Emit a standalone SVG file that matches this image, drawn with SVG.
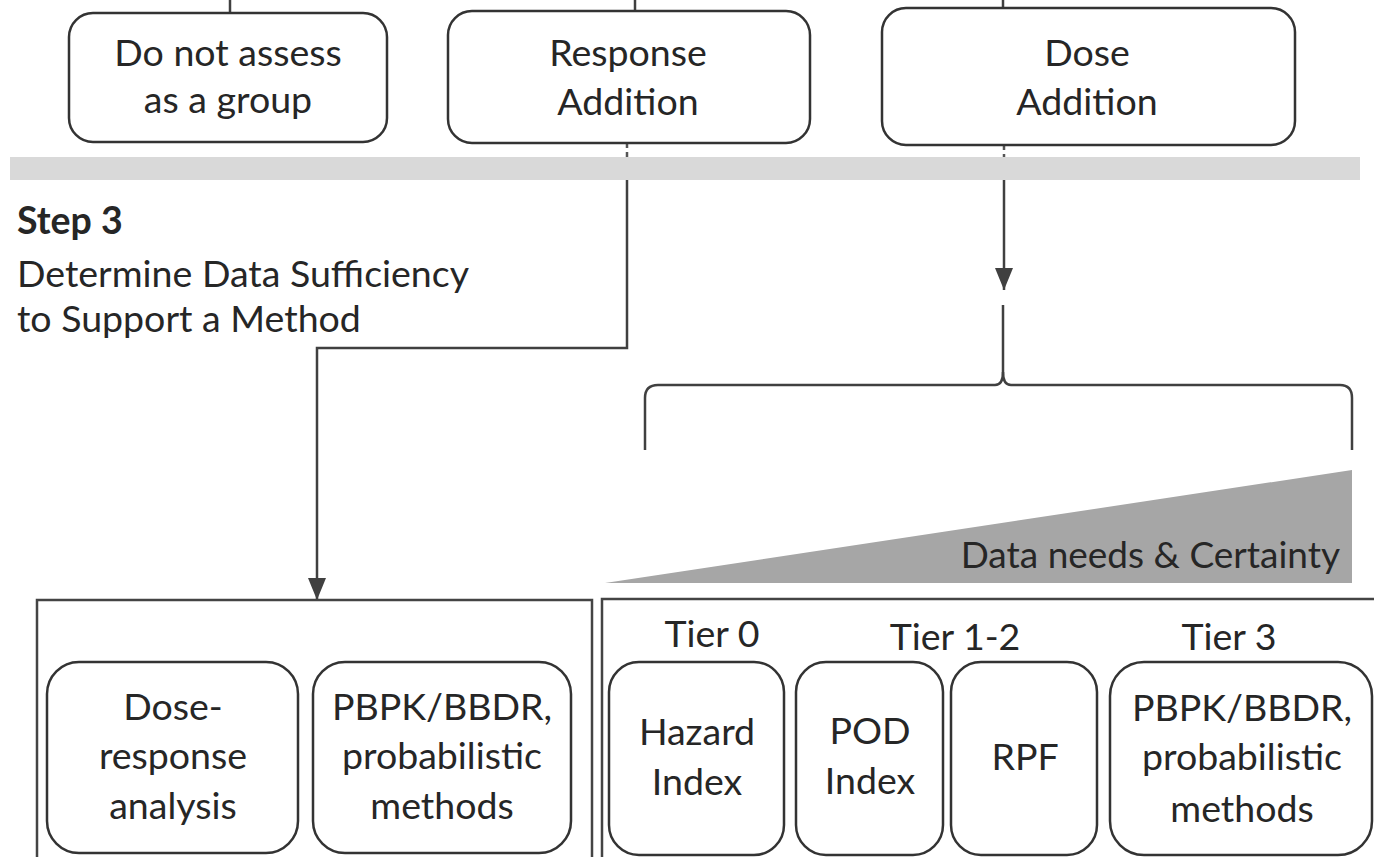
<svg xmlns="http://www.w3.org/2000/svg" width="1374" height="857" viewBox="0 0 1374 857">
<defs>
<style>
.box{fill:#fff;stroke:#333;stroke-width:2.5}
.cont{fill:none;stroke:#444;stroke-width:2.5}
.t{font-family:Lato,"Liberation Sans",sans-serif;font-size:37.5px;fill:#262626;text-anchor:middle}
.ln{fill:none;stroke:#404040;stroke-width:2.5}
</style>
<marker id="ah" viewBox="0 0 22 18" refX="22" refY="9" markerWidth="22" markerHeight="18" markerUnits="userSpaceOnUse" orient="auto">
<path d="M0,0 L22,9 L0,18 Z" fill="#404040"/>
</marker>
</defs>
<rect width="1374" height="857" fill="#fff"/>
<rect x="10" y="157" width="1350" height="23" fill="#d9d9d9"/>
<g id="step3-label" font-family="Lato,'Liberation Sans',sans-serif" font-size="37.5" fill="#262626">
<text x="17" y="234" font-weight="bold">Step 3</text>
<text x="17" y="287">Determine Data Sufficiency</text>
<text x="17" y="332">to Support a Method</text>
</g>
<g id="connectors">
<line class="ln" x1="230" y1="0" x2="230" y2="12"/>
<line class="ln" x1="635" y1="0" x2="635" y2="11"/>
<line class="ln" x1="1003" y1="0" x2="1003" y2="7"/>
<line x1="627" y1="143" x2="627" y2="157" stroke="#555" stroke-width="2.5" stroke-dasharray="5,4"/>
<path class="ln" d="M627,180 L627,348 L317,348 L317,600" marker-end="url(#ah)"/>
<line x1="1004" y1="145" x2="1004" y2="157" stroke="#555" stroke-width="2.5" stroke-dasharray="5,4"/>
<line class="ln" x1="1004" y1="180" x2="1004" y2="290" marker-end="url(#ah)"/>
<path class="ln" d="M1003,305 L1003,372 Q1003,385 995,385 L658,385 Q645,385 645,398 L645,450"/>
<path class="ln" d="M1003,372 Q1003,385 1011,385 L1340,385 Q1352,385 1352,398 L1352,450"/>
</g>
<g id="triangle">
<polygon points="605,583 1352,470 1352,583" fill="#a6a6a6"/>
<text x="1340" y="568" font-family="Lato,'Liberation Sans',sans-serif" font-size="37" fill="#262626" text-anchor="end">Data needs &amp; Certainty</text>
</g>
<g id="node-no-group">
<rect class="box" x="69" y="13" width="318" height="129" rx="24"/>
<text class="t" x="228" y="66">Do not assess</text>
<text class="t" x="228" y="113">as a group</text>
</g>
<g id="node-response-addition">
<rect class="box" x="448" y="11" width="362" height="132" rx="24"/>
<text class="t" x="628" y="66">Response</text>
<text class="t" x="628" y="115">Addition</text>
</g>
<g id="node-dose-addition">
<rect class="box" x="882" y="8" width="413" height="137" rx="24"/>
<text class="t" x="1087" y="66">Dose</text>
<text class="t" x="1087" y="115">Addition</text>
</g>
<g id="container-response">
<rect class="cont" x="37" y="600" width="555" height="270"/>
</g>
<g id="container-dose">
<rect class="cont" x="602" y="599" width="790" height="270"/>
<text class="t" x="712" y="647">Tier 0</text>
<text class="t" x="955" y="650">Tier 1-2</text>
<text class="t" x="1229" y="650">Tier 3</text>
</g>
<g id="node-dose-response">
<rect class="box" x="47" y="662" width="251" height="191" rx="32"/>
<text class="t" x="173" y="720">Dose-</text>
<text class="t" x="173" y="769">response</text>
<text class="t" x="173" y="819">analysis</text>
</g>
<g id="node-pbpk-left">
<rect class="box" x="313" y="662" width="258" height="191" rx="32"/>
<text class="t" x="442" y="720">PBPK/BBDR,</text>
<text class="t" x="442" y="769">probabilistic</text>
<text class="t" x="442" y="819">methods</text>
</g>
<g id="node-hazard-index">
<rect class="box" x="609" y="662" width="175" height="193" rx="30"/>
<text class="t" x="697" y="745">Hazard</text>
<text class="t" x="697" y="795">Index</text>
</g>
<g id="node-pod-index">
<rect class="box" x="796" y="662" width="147" height="193" rx="30"/>
<text class="t" x="870" y="744">POD</text>
<text class="t" x="870" y="794">Index</text>
</g>
<g id="node-rpf">
<rect class="box" x="951" y="662" width="146" height="193" rx="30"/>
<text class="t" x="1025" y="770">RPF</text>
</g>
<g id="node-pbpk-right">
<rect class="box" x="1110" y="662" width="262" height="193" rx="34"/>
<text class="t" x="1242" y="721">PBPK/BBDR,</text>
<text class="t" x="1242" y="770">probabilistic</text>
<text class="t" x="1242" y="822">methods</text>
</g>
</svg>
